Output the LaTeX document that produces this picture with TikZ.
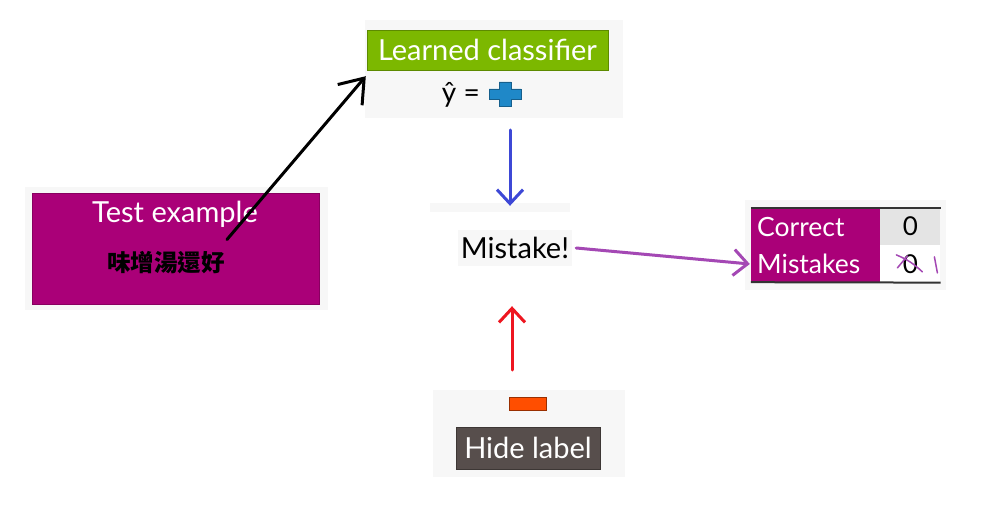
\documentclass[tikz,border=0pt]{standalone}
\usepackage{fontspec}
\setmainfont{Lato}
\newfontfamily\cjk{Noto Sans CJK TC}
\usetikzlibrary{arrows.meta,positioning}
\definecolor{clsgreen}{HTML}{7CB800}
\definecolor{testmag}{HTML}{AA0078}
\definecolor{plusblue}{HTML}{1F88C8}
\definecolor{hidegray}{HTML}{574E4C}
\definecolor{hideorange}{HTML}{FF4E00}
\definecolor{panelbg}{HTML}{F7F7F7}
\definecolor{cellgray}{HTML}{E4E4E4}
\definecolor{penblue}{HTML}{3D48D6}
\definecolor{penred}{HTML}{EE1620}
\definecolor{penpurple}{HTML}{A448B4}
\tikzset{
  panel/.style={fill=panelbg, draw=none},
  tag/.style={inner sep=0pt, text=white, font=\fontsize{29}{33}\selectfont},
  plain/.style={inner sep=0pt, font=\fontsize{29}{33}\selectfont},
  cell/.style={inner sep=0pt, minimum width=60pt, minimum height=37pt, font=\fontsize{26}{30}\selectfont},
  pen/.style={line width=3pt, line cap=round},
  hand/.style={pen, -{Straight Barb[length=14pt, width=26pt]}},
}
\begin{document}
\begin{tikzpicture}[x=1pt,y=-1pt]
  \useasboundingbox[fill=white] (0,0) rectangle (992,526);
  % learned classifier
  \fill[panel] (365,20) rectangle (623,118);
  \node[tag, fill=clsgreen, draw=clsgreen!75!black, minimum width=241pt, minimum height=40pt] (cls) at (487.5,50) {Learned classifier};
  \node[inner sep=0pt, font=\fontsize{28}{32}\selectfont, anchor=east] (yhat) at (480,95) {ŷ =};
  \begin{scope}[shift={(505,94)}]
    \filldraw[fill=plusblue, draw=plusblue!70!black, line width=0.8pt]
      (-6,-12) -- (6,-12) -- (6,-5) -- (16,-5) -- (16,5) -- (6,5) -- (6,12)
      -- (-6,12) -- (-6,5) -- (-16,5) -- (-16,-5) -- (-6,-5) -- cycle;
  \end{scope}
  \coordinate (plus) at (510,130);
  % test example
  \fill[panel] (25,187) rectangle (328,310);
  \node[fill=testmag, draw=testmag!80!black, minimum width=287pt, minimum height=111pt] (testbox) at (175.5,248.5) {};
  \node[tag] (testtxt) at (175,214) {Test example};
  \node[inner sep=0pt, font=\cjk\bfseries\fontsize{23.5}{27}\selectfont] (testcjk) at (166,263) {味增湯還好};
  % mistake
  \fill[panel] (430,203) rectangle (570,212);
  \node[plain, fill=panelbg, minimum width=114pt, minimum height=36pt] (mistake) at (515,248) {Mistake!};
  % hide label
  \fill[panel] (433,390) rectangle (625,477);
  \node[fill=hideorange, draw=hideorange!60!black, minimum width=37pt, minimum height=13pt, inner sep=0pt] (hideflag) at (527.5,403.5) {};
  \node[tag, fill=hidegray, draw=hidegray!70!black, minimum width=144pt, minimum height=42pt] (hide) at (528,448) {Hide label};
  \coordinate (hidetop) at (512,370);
  % counter
  \fill[panel] (745,200) rectangle (946,290);
  \node[fill=testmag, minimum width=129pt, minimum height=74pt, inner sep=0pt] (counter) at (815.5,245) {};
  \node[tag, font=\fontsize{26.5}{30}\selectfont, anchor=west] (correct) at (757,227) {Correct};
  \node[tag, font=\fontsize{26.5}{30}\selectfont, anchor=west] (mistakes) at (757,264) {Mistakes};
  \node[cell, fill=cellgray, anchor=north west] (ccount) at (counter.north east) {0};
  \node[cell, fill=white, below=0pt of ccount] (mcount) {0};
  \draw[line width=2pt, black!80] (counter.north west) -- (ccount.north east);
  \draw[line width=2pt, black!80] (counter.south west) -- (mcount.south east);
  % pen strokes
  \draw[pen, line width=1.5pt, penpurple] ([shift={(-14,-9)}]mcount.center) to[bend left=10] ([shift={(12,8)}]mcount.center);
  \draw[pen, line width=1.5pt, penpurple] ([shift={(-13,4)}]mcount.center) -- ([shift={(-3,-8)}]mcount.center);
  \draw[pen, line width=1.5pt, penpurple] ([shift={(24,-7)}]mcount.center) -- ([shift={(27,9)}]mcount.center);
  \draw[hand, black, -{Straight Barb[length=22pt, width=32pt]}] ([shift={(2,-12)}]testcjk.north east) -- ([shift={(-1,6)}]cls.south west);
  \draw[hand, penblue] (plus) -- ([yshift=24pt]mistake.north -| plus);
  \draw[hand, penpurple] ([xshift=4pt]mistake.east) -- ([xshift=-1pt]mistakes.west -| counter.west);
  \draw[hand, penred] (hidetop) -- ([yshift=-40pt]mistake.south -| hidetop);
\end{tikzpicture}
\end{document}
